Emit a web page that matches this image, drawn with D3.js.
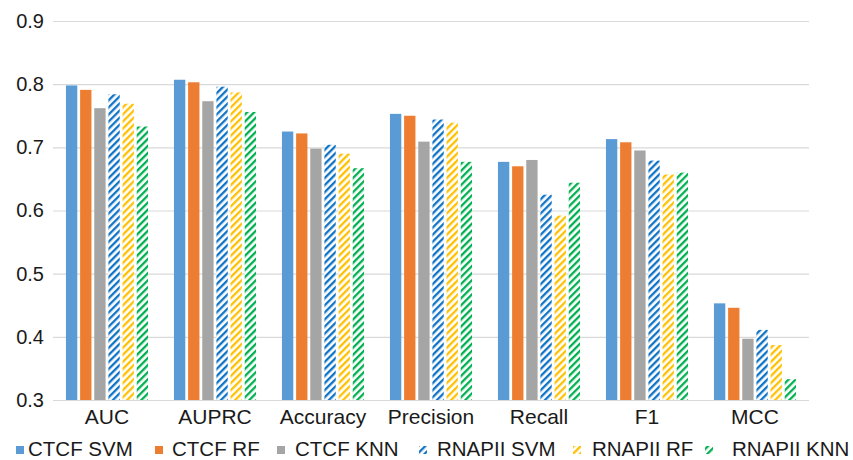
<!DOCTYPE html>
<html>
<head>
<meta charset="utf-8">
<script src="https://cdn.jsdelivr.net/npm/d3@7"></script>
<style>
  html, body { margin: 0; padding: 0; background: #fff; }
  svg { display: block; font-family: "Liberation Sans", Arial, sans-serif; }
</style>
</head>
<body>
<svg id="chart" width="853" height="460"></svg>
<script>
// Metrics on the x axis
const categories = ["AUC", "AUPRC", "Accuracy", "Precision", "Recall", "F1", "MCC"];

// Model / feature-set combinations
const seriesNames = ["CTCF SVM", "CTCF RF", "CTCF KNN", "RNAPII SVM", "RNAPII RF", "RNAPII KNN"];

// Scores per model, in the order of the categories above
const ctcfSVM    = [0.798, 0.807, 0.725, 0.753, 0.677, 0.713, 0.453];
const ctcfRF     = [0.791, 0.803, 0.722, 0.750, 0.670, 0.708, 0.446];
const ctcfKNN    = [0.762, 0.773, 0.698, 0.709, 0.680, 0.695, 0.397];
const rnapiiSVM  = [0.784, 0.796, 0.704, 0.744, 0.625, 0.679, 0.411];
const rnapiiRF   = [0.769, 0.787, 0.690, 0.739, 0.592, 0.657, 0.387];
const rnapiiKNN  = [0.733, 0.756, 0.667, 0.677, 0.644, 0.660, 0.333];

const seriesValues = [ctcfSVM, ctcfRF, ctcfKNN, rnapiiSVM, rnapiiRF, rnapiiKNN];

// Y axis ticks
const yTicks = [0.3, 0.4, 0.5, 0.6, 0.7, 0.8, 0.9];

// Styling: solid fills for CTCF, striped fills for RNAPII
const seriesStyle = [
  { color: "#5B9BD5", hatch: false },
  { color: "#ED7D31", hatch: false },
  { color: "#A5A5A5", hatch: false },
  { color: "#0F73C6", hatch: true },
  { color: "#FFC000", hatch: true },
  { color: "#00B050", hatch: true }
];

const svg = d3.select("#chart");
const margin = { left: 53, right: 44, top: 21, bottom: 60 };
const W = 853, H = 460;
const plotBottom = H - margin.bottom; // 400
const textColor = "#1a1a1a";

const x0 = d3.scaleBand()
  .domain(categories)
  .range([margin.left, W - margin.right])
  .paddingInner(0.24)
  .paddingOuter(0.12);

const x1 = d3.scaleBand()
  .domain(d3.range(seriesNames.length))
  .range([0, x0.bandwidth()])
  .paddingInner(0.2)
  .paddingOuter(0);

const y = d3.scaleLinear()
  .domain([0.3, 0.9])
  .range([plotBottom, margin.top]);

// Diagonal stripe patterns
const defs = svg.append("defs");
seriesStyle.forEach((s, i) => {
  if (!s.hatch) return;
  const p = defs.append("pattern")
    .attr("id", "hatch" + i)
    .attr("patternUnits", "userSpaceOnUse")
    .attr("width", 5)
    .attr("height", 5)
    .attr("patternTransform", "rotate(45)");
  p.append("rect").attr("width", 5).attr("height", 5).attr("fill", "#fff");
  p.append("rect").attr("x", 0).attr("y", 0).attr("width", 2.3).attr("height", 5).attr("fill", s.color);
});
const fillFor = i => seriesStyle[i].hatch ? `url(#hatch${i})` : seriesStyle[i].color;

// Gridlines and y tick labels
const yAxis = d3.axisLeft(y)
  .tickValues(yTicks)
  .tickFormat(d3.format(".1f"))
  .tickSize(-(W - margin.right - margin.left))
  .tickPadding(9);

const gy = svg.append("g")
  .attr("transform", `translate(${margin.left},0)`)
  .call(yAxis);
gy.select(".domain").remove();
gy.selectAll(".tick line").attr("stroke", "#D9D9D9").attr("stroke-width", 1.2);
gy.selectAll(".tick text")
  .attr("fill", textColor)
  .attr("font-size", 20)
  .attr("font-family", "Liberation Sans, Arial, sans-serif");

// Bars
const groups = svg.append("g")
  .selectAll("g")
  .data(categories)
  .join("g")
  .attr("transform", d => `translate(${x0(d)},0)`);

groups.selectAll("rect")
  .data((c, ci) => seriesValues.map((vals, si) => ({ si, v: vals[ci] })))
  .join("rect")
  .attr("x", d => x1(d.si))
  .attr("width", x1.bandwidth())
  .attr("y", d => y(d.v))
  .attr("height", d => y(0.3) - y(d.v))
  .attr("fill", d => fillFor(d.si));

// X axis (category labels + baseline)
const xAxis = d3.axisBottom(x0).tickSize(0).tickPadding(9);
const gx = svg.append("g")
  .attr("transform", `translate(0,${plotBottom})`)
  .call(xAxis);
gx.select(".domain")
  .attr("d", `M${margin.left},0.5H${W - margin.right}`)
  .attr("stroke", "#D9D9D9")
  .attr("stroke-width", 1.2);
gx.selectAll(".tick text")
  .attr("fill", textColor)
  .attr("font-size", 21)
  .attr("font-family", "Liberation Sans, Arial, sans-serif");

// Legend
const legendX = [16, 155, 277, 419, 573, 705];
const legendTextX = [28, 172, 295, 437, 592, 732];
const legend = svg.append("g");
seriesNames.forEach((name, i) => {
  legend.append("rect")
    .attr("x", legendX[i])
    .attr("y", 446)
    .attr("width", 8)
    .attr("height", 8)
    .attr("fill", fillFor(i));
  legend.append("text")
    .attr("x", legendTextX[i])
    .attr("y", 456)
    .attr("font-size", 20.5)
    .attr("fill", textColor)
    .text(name);
});
</script>
</body>
</html>
